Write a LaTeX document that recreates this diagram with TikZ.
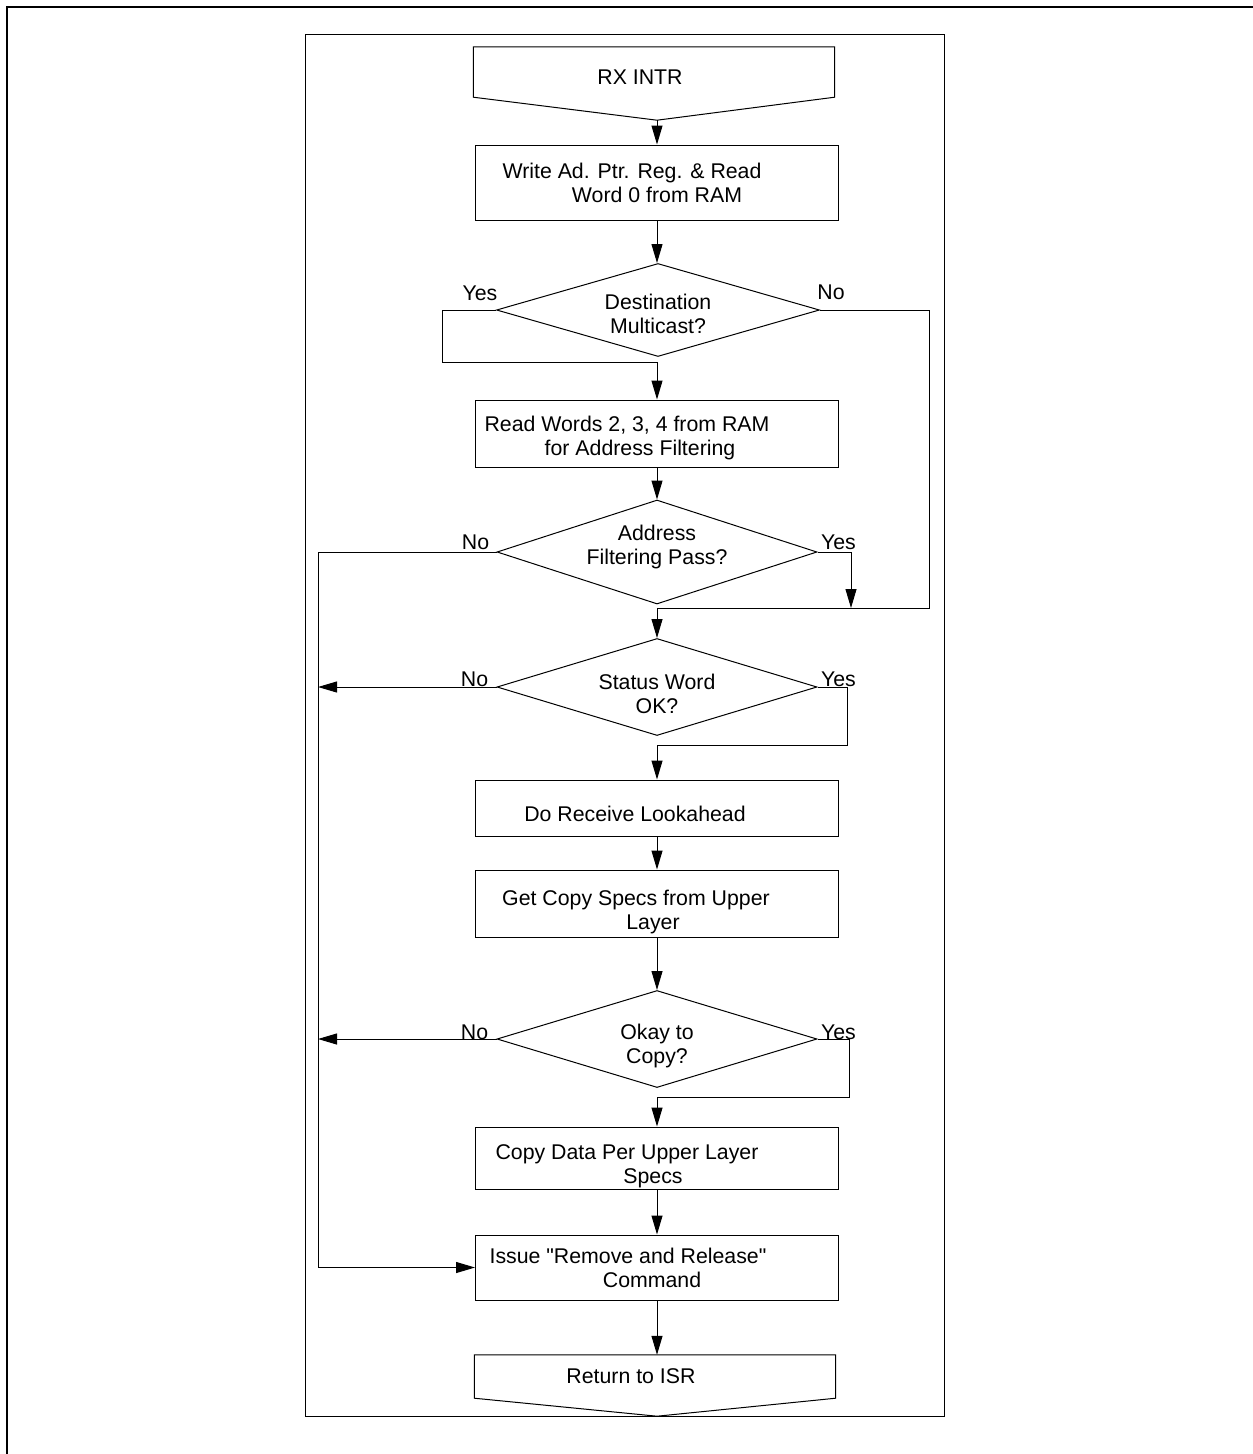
\documentclass[tikz,border=0pt]{standalone}
\usepackage{fontspec}
\setmainfont{Liberation Sans}
\usetikzlibrary{arrows.meta,calc,shapes.geometric}

\newcommand{\pad}[1]{\hspace*{#1pt}}

\begin{document}
\begin{tikzpicture}[x=1pt,y=-1pt,>={Triangle[length=19pt,width=11pt]},
  font=\fontsize{21.3}{24}\selectfont,
  box/.style={draw,line width=1pt,minimum width=363pt,inner sep=0pt,align=center},
  term/.style={minimum width=361pt,inner sep=0pt},
  dec/.style={diamond,draw,line width=1pt,aspect=3.3,inner sep=0pt,align=center},
  wire/.style={line width=1pt},
  flow/.style={wire,->},
  yn/.style={inner sep=0pt}]
\useasboundingbox (0,0) rectangle (1253,1454);
% frames
\draw[line width=2.5pt] (7,1454) -- (7,7) -- (1253,7);
\draw[wire] (305,34) rectangle (944,1416);
% start and end
\node[term,minimum height=50pt,text height=29pt,text depth=4pt] (rx) at (654,72) {RX INTR\pad{28}};
\coordinate (rxtip) at (rx.south -| 657,0);
\coordinate (rxtip) at ($(rxtip)+(0,23)$);
\draw[wire] (rx.north west) -- (rx.north east) -- (rx.south east) -- (rxtip) -- (rx.south west) -- cycle;
\node[term,minimum height=43pt] (ret) at (655,1376.5) {Return to ISR\pad{48}};
\coordinate (rettip) at ($(ret.south)+(2,18)$);
\draw[wire] (ret.north west) -- (ret.north east) -- (ret.south east) -- (rettip) -- (ret.south west) -- cycle;
% steps
\node[box,minimum height=75pt] (b1) at (657,182.5) {Write Ad. Ptr. Reg. \& Read\pad{50}\\Word 0 from RAM};
\node[dec,minimum width=323pt,minimum height=93pt,text height=47pt] (d1) at (658,310) {Destination\\Multicast?};
\node[box,minimum height=67pt,text height=48pt] (b2) at (657,433.5) {Read Words 2, 3, 4 from RAM\pad{60}\\for Address Filtering\pad{34}};
\node[dec,minimum width=320pt,minimum height=104pt,text height=29pt] (d2) at (657,552) {Address\\Filtering Pass?};
\node[dec,minimum width=320pt,minimum height=97pt,text height=54pt] (d3) at (657,687) {Status Word\\OK?};
\node[box,minimum height=56pt,text height=31pt,text depth=4pt] (b3) at (657,808) {Do Receive Lookahead\pad{44}};
\node[box,minimum height=67pt,text height=57pt] (b4) at (657,903.5) {Get Copy Specs from Upper\pad{42}\\Layer\pad{8}};
\node[dec,minimum width=320pt,minimum height=97pt,text height=54pt] (d4) at (657,1039) {Okay to\\Copy?};
\node[box,minimum height=62pt,text height=55pt] (b5) at (657,1158) {Copy Data Per Upper Layer\pad{60}\\Specs\pad{8}};
\node[box,minimum height=65pt] (b6) at (657,1267.5) {Issue \textquotedbl Remove and Release\textquotedbl\pad{58}\\Command\pad{10}};
% yes / no
\node[yn] (y1) at ($(d1.west)+(-16,-17)$) {Yes};
\node[yn] (n1) at ($(d1.east)+(11,-18)$) {No};
\node[yn] (n2) at ($(d2.west)+(-21,-10)$) {No};
\node[yn] (y2) at ($(d2.east)+(21,-10)$) {Yes};
\node[yn] (n3) at ($(d3.west)+(-22,-8)$) {No};
\node[yn] (y3) at ($(d3.east)+(21,-8)$) {Yes};
\node[yn] (n4) at ($(d4.west)+(-22,-7)$) {No};
\node[yn] (y4) at ($(d4.east)+(21,-7)$) {Yes};
% joints
\coordinate (rail) at (318,0);
\coordinate (j1) at (657,362);
\coordinate (j2) at (657,608);
\coordinate (k2) at (851,608);
\coordinate (j3) at (657,745);
\coordinate (j4) at (657,1097);
% connectors
\draw[flow] (rxtip) -- (b1);
\draw[flow] (b1) -- (b1 |- d1.north);
\draw[wire] (d1.west) -- ++(-54,0) |- (j1);
\draw[flow] (j1) -- (b2);
\draw[wire] (d1.east) -- ++(109,0) |- (j2);
\draw[flow] (j2) -- (d3);
\draw[flow] (b2) -- (d2);
\draw[flow] (d2.west) -| (rail |- b6.west) -- (b6.west);
\draw[flow] (d2.east) -| (k2);
\draw[flow] (d3.west) -- (d3.west -| rail);
\draw[flow] (d3.east) -- ++(30,0) |- (j3) -- (b3);
\draw[flow] (b3) -- (b4);
\draw[flow] (b4) -- (d4);
\draw[flow] (d4.west) -- (d4.west -| rail);
\draw[flow] (d4.east) -- ++(32,0) |- (j4) -- (b5);
\draw[flow] (b5) -- (b6);
\draw[flow] (b6) -- (b6 |- ret.north);
\end{tikzpicture}
\end{document}
